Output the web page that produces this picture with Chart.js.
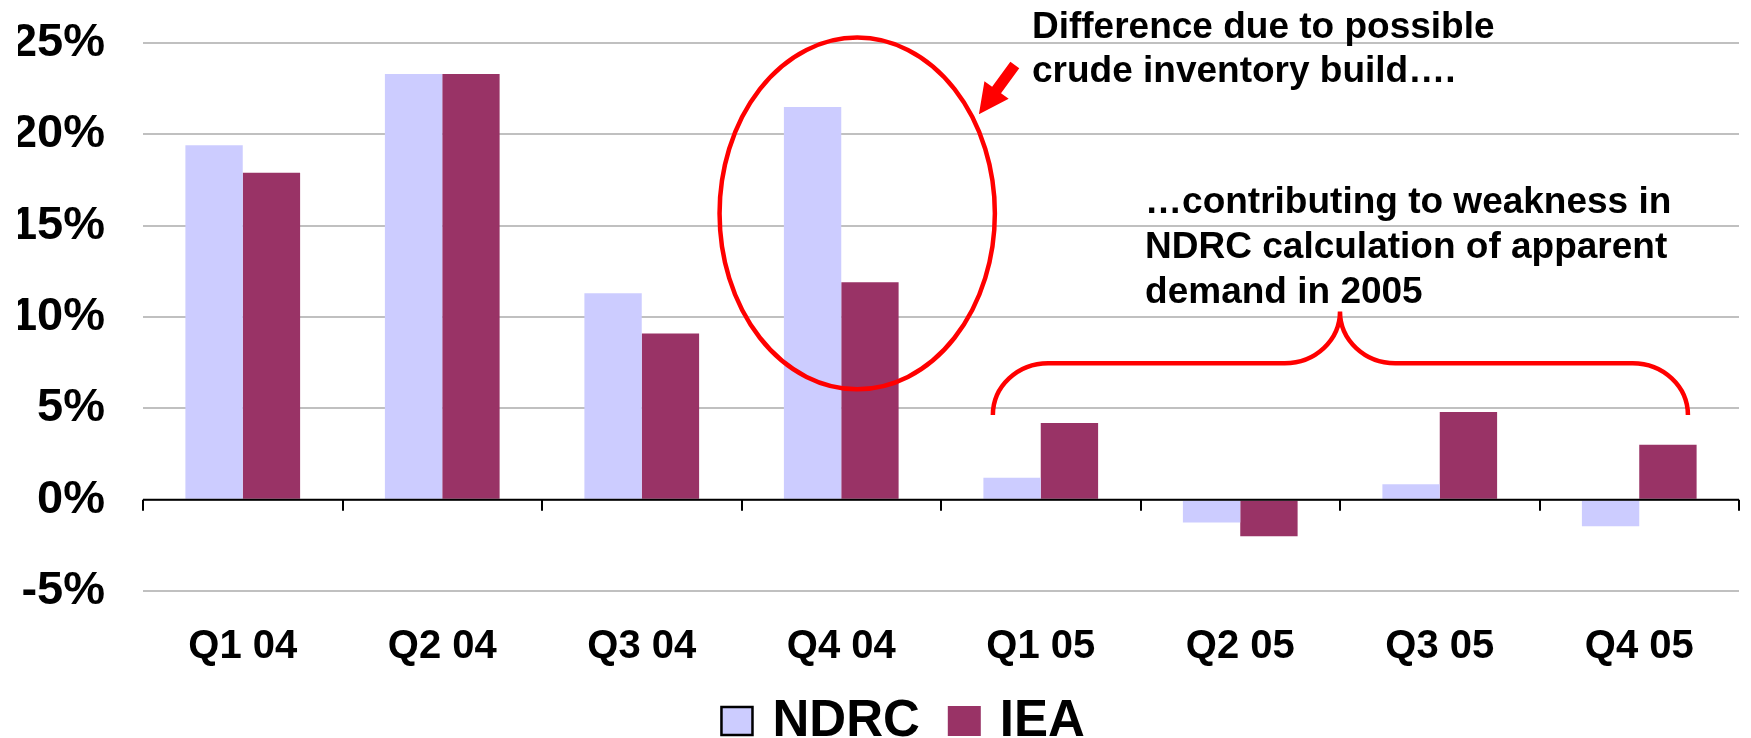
<!DOCTYPE html>
<html>
<head>
<meta charset="utf-8">
<script src="https://cdn.jsdelivr.net/npm/chart.js@4.4.1/dist/chart.umd.min.js"></script>
<style>
    html, body { margin: 0; padding: 0; background: #fff; overflow: hidden; }
    #wrap { width: 1751px; height: 738px; position: relative; }
</style>
</head>
<body>
<div id="wrap"><canvas id="demandChart"></canvas></div>
<script>
const quarters = ['Q1 04', 'Q2 04', 'Q3 04', 'Q4 04', 'Q1 05', 'Q2 05', 'Q3 05', 'Q4 05'];
const ndrcGrowth = [19.4, 23.3, 11.3, 21.5, 1.2, -1.25, 0.85, -1.45];
const ieaGrowth = [17.9, 23.3, 9.1, 11.9, 4.2, -2.0, 4.8, 3.0];
const yMin = -5;
const yMax = 25;
const yStep = 5;

const noteTop = ['Difference due to possible', 'crude inventory build….'];
const noteRight = ['…contributing to weakness in', 'NDRC calculation of apparent', 'demand in 2005'];

const FONT = "'Liberation Sans', Arial, sans-serif";
const RED = '#ff0000';

// zero line, category ticks, red callouts and the legend
const overlay = {
    id: 'overlay',
    afterDatasetsDraw(chart) {
        const { ctx, chartArea, scales: { x, y } } = chart;
        const step = x.getPixelForValue(1) - x.getPixelForValue(0);
        const xAt = i => x.getPixelForValue(0) + i * step;
        const y0 = y.getPixelForValue(0);

        ctx.save();
        ctx.strokeStyle = '#000';
        ctx.lineWidth = 2;
        ctx.beginPath();
        ctx.moveTo(chartArea.left, y0);
        ctx.lineTo(chartArea.right, y0);
        for (let i = 0; i <= quarters.length; i++) {
            const px = Math.round(xAt(i - 0.5));
            ctx.moveTo(px, y0);
            ctx.lineTo(px, y0 + 11);
        }
        ctx.stroke();

        // ellipse round Q4 04
        ctx.strokeStyle = RED;
        ctx.lineWidth = 4.5;
        const ry = (y.getPixelForValue(6.05) - y.getPixelForValue(25.3)) / 2;
        ctx.beginPath();
        ctx.ellipse(xAt(3.08), y.getPixelForValue(15.67), 0.69 * step, ry, 0, 0, Math.PI * 2);
        ctx.stroke();

        // arrow
        const tx = xAt(3.87), ty = y.getPixelForValue(23.8);
        const hx = xAt(3.69), hy = y.getPixelForValue(21.1);
        const len = Math.hypot(hx - tx, hy - ty);
        const ux = (hx - tx) / len, uy = (hy - ty) / len;
        const nx = -uy, ny = ux;
        const headLen = 30, headW = 15, shaftW = 5.5;
        const bx = hx - ux * headLen, by = hy - uy * headLen;
        ctx.fillStyle = RED;
        ctx.beginPath();
        ctx.moveTo(tx + nx * shaftW, ty + ny * shaftW);
        ctx.lineTo(bx + nx * shaftW, by + ny * shaftW);
        ctx.lineTo(bx + nx * headW, by + ny * headW);
        ctx.lineTo(hx, hy);
        ctx.lineTo(bx - nx * headW, by - ny * headW);
        ctx.lineTo(bx - nx * shaftW, by - ny * shaftW);
        ctx.lineTo(tx - nx * shaftW, ty - ny * shaftW);
        ctx.closePath();
        ctx.fill();

        // brace over 2005
        const left = xAt(3.76), right = xAt(7.244), mid = xAt(5.5);
        const yEnd = y.getPixelForValue(4.63);
        const yBar = y.getPixelForValue(7.47);
        const yTip = y.getPixelForValue(10.3);
        const rx = 0.277 * step;
        const r1 = yEnd - yBar, r2 = yBar - yTip;
        ctx.lineWidth = 4.5;
        ctx.beginPath();
        ctx.moveTo(left, yEnd);
        ctx.ellipse(left + rx, yEnd, rx, r1, 0, Math.PI, Math.PI * 1.5);
        ctx.lineTo(mid - rx, yBar);
        ctx.ellipse(mid - rx, yTip, rx, r2, 0, Math.PI / 2, 0, true);
        ctx.ellipse(mid + rx, yTip, rx, r2, 0, Math.PI, Math.PI / 2, true);
        ctx.lineTo(right - rx, yBar);
        ctx.ellipse(right - rx, yEnd, rx, r1, 0, Math.PI * 1.5, Math.PI * 2);
        ctx.stroke();

        // notes
        ctx.fillStyle = '#000';
        ctx.font = `bold 37px ${FONT}`;
        ctx.textAlign = 'left';
        ctx.textBaseline = 'alphabetic';
        [25.25, 22.85].forEach((v, i) => ctx.fillText(noteTop[i], xAt(3.956), y.getPixelForValue(v)));
        [15.68, 13.25, 10.77].forEach((v, i) => ctx.fillText(noteRight[i], xAt(4.523), y.getPixelForValue(v)));
        ctx.restore();
    },
    afterDraw(chart) {
        // legend at the foot of the picture
        const { ctx } = chart;
        const box = 33, gap = 19, spacing = 28;
        const boxTop = chart.height - 32;
        const baseline = chart.height - 2;
        ctx.save();
        ctx.font = `bold 51px ${FONT}`;
        ctx.textBaseline = 'alphabetic';
        ctx.textAlign = 'left';
        const items = chart.data.datasets.map(ds => ({ ds, w: ctx.measureText(ds.label).width }));
        const total = items.reduce((s, it) => s + box + gap + it.w, 0) + spacing * (items.length - 1);
        let cx = chart.width * 0.5155 - total / 2;
        items.forEach((it, i) => {
            ctx.fillStyle = it.ds.backgroundColor;
            ctx.fillRect(cx, boxTop, box, 30);
            if (i === 0) {
                ctx.strokeStyle = '#000';
                ctx.lineWidth = 2.5;
                ctx.strokeRect(cx + 1, boxTop + 1, box - 2, 28);
            }
            ctx.fillStyle = '#000';
            ctx.fillText(it.ds.label, cx + box + gap, baseline);
            cx += box + gap + it.w + spacing;
        });
        ctx.restore();
    }
};

new Chart(document.getElementById('demandChart'), {
    type: 'bar',
    data: {
        labels: quarters,
        datasets: [
            { label: 'NDRC', data: ndrcGrowth, backgroundColor: '#ccccff', borderWidth: 0 },
            { label: 'IEA', data: ieaGrowth, backgroundColor: '#993366', borderWidth: 0 }
        ]
    },
    options: {
        responsive: true,
        maintainAspectRatio: false,
        animation: false,
        datasets: {
            bar: { categoryPercentage: 0.575, barPercentage: 1.0 }
        },
        layout: {
            padding: { top: 43, left: 18, right: 12, bottom: 67 }
        },
        plugins: {
            tooltip: { enabled: false },
            legend: { display: false }
        },
        scales: {
            x: {
                afterFit: (scale) => { scale.height = 80; },
                grid: { display: false },
                border: { display: false },
                ticks: {
                    color: '#000',
                    padding: 24,
                    font: { family: FONT, size: 40, weight: 'bold' }
                }
            },
            y: {
                min: yMin,
                max: yMax,
                afterFit: (scale) => {
                    scale.width = 125;
                    scale.paddingTop = 0;
                    scale.paddingBottom = 0;
                },
                border: { display: false },
                grid: { color: '#c0c0c0', lineWidth: 2, drawTicks: false },
                ticks: {
                    stepSize: yStep,
                    padding: 38,
                    color: '#000',
                    font: { family: FONT, size: 47, weight: 'bold' },
                    callback: (value) => value + '%'
                }
            }
        }
    },
    plugins: [overlay]
});
</script>
</body>
</html>
